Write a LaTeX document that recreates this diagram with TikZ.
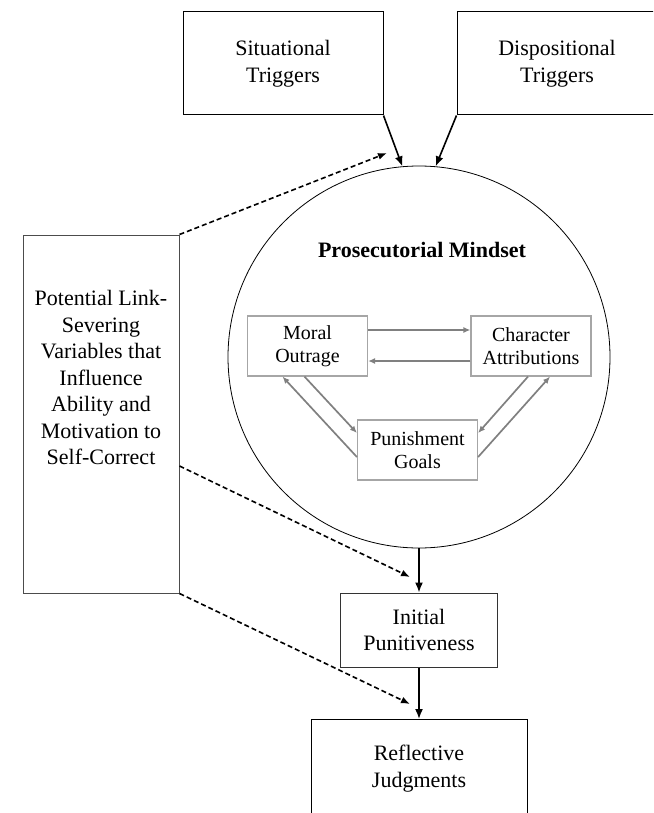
\documentclass[tikz,border=0pt]{standalone}
\usepackage{fontspec}
\setmainfont{Liberation Serif}
\usetikzlibrary{arrows, arrows.meta, positioning}
\tikzset{
  boxnode/.style = {align=center, inner sep=1pt, text centered,
    font=\fontsize{22}{26.5}\selectfont},
  box_k/.style = {boxnode, rectangle, draw=black, line width=1pt},% outer box
  box_g/.style = {boxnode, rectangle, draw=gray!70, line width=1.2pt,
    font=\fontsize{20}{23}\selectfont, minimum width=120pt,
    minimum height=60pt},% box inside the mindset
  arr_k/.style = {-{Latex[length=10pt, width=8pt]}, line width=1.6pt},% solid link
  arr_d/.style = {-{Latex[length=9pt, width=7pt]}, line width=1.6pt,
    dash pattern=on 5pt off 3pt},% severable link
  arr_g/.style = {-{Latex[length=7pt, width=6pt]}, draw=gray, fill=gray,
    line width=1.7pt}% link inside the mindset
}

\begin{document}
\begin{tikzpicture}[x=1pt, y=-1pt]
  \clip (0,0) rectangle (653,813);
  \node (sit) [box_k, minimum width=200pt, minimum height=103pt] at (283,63.5)
    {Situational\\Triggers};
  \node (disp) [box_k, minimum width=200pt, minimum height=103pt] at (557,63.5)
    {Dispositional\\Triggers};
  \node (mindset) [circle, draw, line width=0.8pt, minimum size=382pt] at (419,357) {};
  \node (title) [font=\fontsize{22}{26.5}\selectfont\bfseries] at (422,250)
    {Prosecutorial Mindset};
  \node (moral) [box_g] at (307.5,346) {Moral\\Outrage};
  \node (charac) [box_g] at (531,346) {Character\\Attributions};
  \node (punish) [box_g] at (417.5,450) {Punishment\\Goals};
  \node (sever) [box_k, draw=black!70, minimum width=156pt, minimum height=358pt]
    at (101,414) {};
  \node (severtxt) [boxnode, below=55pt of sever.north]
    {Potential Link-\\Severing\\Variables that\\Influence\\Ability and\\Motivation to\\Self-Correct};
  \node (initial) [box_k, draw=black!80, minimum width=157pt, minimum height=74pt]
    at (419,630) {Initial\\Punitiveness};
  \node (reflect) [box_k, minimum width=216pt, minimum height=98pt, anchor=north]
    at (419,719) {Reflective\\Judgments};
  \coordinate (tip1) at (387,153);
  \coordinate (tip2) at (410,577);
  \coordinate (tip3) at (410,704);

  \draw [arr_k] (sit.south east) -- (mindset.95);
  \draw [arr_k] (disp.south west) -- (mindset.85);
  \draw [arr_k] (mindset.south) -- (initial.north);
  \draw [arr_k] (initial.south) -- (reflect.north);

  \draw [arr_d] (sever.north east) -- (tip1);
  \draw [arr_d] ([yshift=-52pt]sever.east) -- (tip2);
  \draw [arr_d] (sever.south east) -- (tip3);

  \draw [arr_g] ([yshift=16pt]moral.east) -- ([yshift=16pt]charac.west);
  \draw [arr_g] ([yshift=-15pt]charac.west) -- ([yshift=-15pt]moral.east);
  \draw [arr_g] ([xshift=-3pt]moral.south) -- ([yshift=17pt]punish.west);
  \draw [arr_g] ([yshift=-7pt]punish.west) -- ([xshift=-25pt]moral.south);
  \draw [arr_g] ([xshift=-3pt]charac.south) -- ([yshift=17pt]punish.east);
  \draw [arr_g] ([yshift=-7pt]punish.east) -- ([xshift=19pt]charac.south);
\end{tikzpicture}
\end{document}
